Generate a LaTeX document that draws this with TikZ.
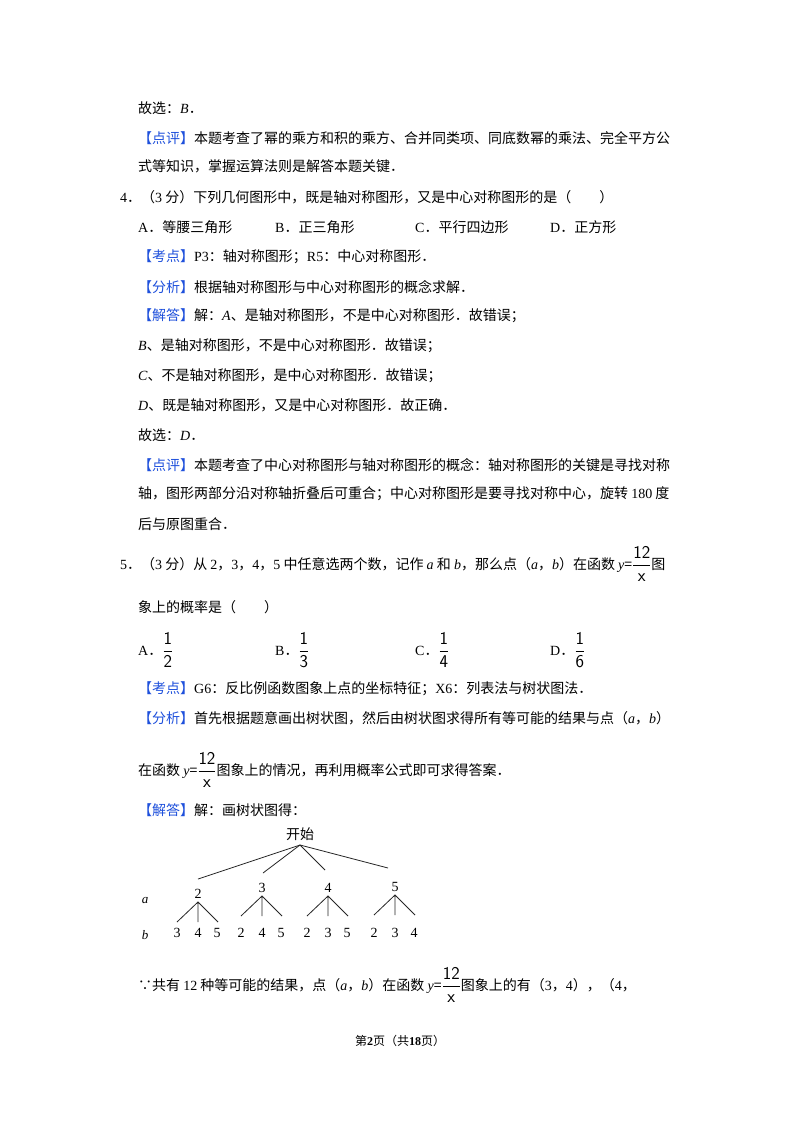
\documentclass[tikz,border=0pt]{standalone}
\usepackage{fontspec}
\setmainfont{Noto Sans CJK SC}
\newfontfamily\ser{Liberation Serif}
\newcommand{\I}[1]{{\ser\itshape #1}}
\newcommand{\R}[1]{{\ser #1}}
\newcommand{\tag}[1]{{\color{tagblue}【#1】}}
\newcommand{\fr}[2]{{\fontsize{18}{20}\selectfont$\displaystyle\frac{\mathsf{#1}}{\mathsf{#2}}$}}
\definecolor{tagblue}{RGB}{30,80,220}
\begin{document}
\begin{tikzpicture}[x=1pt,y=-1pt,
  ln/.style={anchor=west,inner sep=0pt,font=\fontsize{14}{16}\selectfont},
  tn/.style={inner sep=0pt,font=\ser\fontsize{14}{16}\selectfont},
  br/.style={line width=0.8pt,black!85}]
\useasboundingbox (0,0) rectangle (800,1132);
\fill[white] (0,0) rectangle (800,1132);
\node[ln] (l1) at (138,108) {故选：\I{B}．};
\node[ln] (l2) at (138,138) {\tag{点评}本题考查了幂的乘方和积的乘方、合并同类项、同底数幂的乘法、完全平方公};
\node[ln] (l3) at (138,166) {式等知识，掌握运算法则是解答本题关键．};
\node[ln] (l4) at (120,197) {\R{4}．（\R{3} 分）下列几何图形中，既是轴对称图形，又是中心对称图形的是（\quad\quad）};
\node[ln] (o1) at (138,227) {\R{A}．等腰三角形};
\node[ln] (o2) at (275,227) {\R{B}．正三角形};
\node[ln] (o3) at (415,227) {\R{C}．平行四边形};
\node[ln] (o4) at (550,227) {\R{D}．正方形};
\node[ln] (l5) at (138,257) {\tag{考点}\R{P3}：轴对称图形；\R{R5}：中心对称图形．};
\node[ln] (l6) at (138,287) {\tag{分析}根据轴对称图形与中心对称图形的概念求解．};
\node[ln] (l7) at (138,316) {\tag{解答}解：\I{A}、是轴对称图形，不是中心对称图形．故错误；};
\node[ln] (l8) at (138,346) {\I{B}、是轴对称图形，不是中心对称图形．故错误；};
\node[ln] (l9) at (138,376) {\I{C}、不是轴对称图形，是中心对称图形．故错误；};
\node[ln] (l10) at (138,405) {\I{D}、既是轴对称图形，又是中心对称图形．故正确．};
\node[ln] (l11) at (138,435) {故选：\I{D}．};
\node[ln] (l12) at (138,465) {\tag{点评}本题考查了中心对称图形与轴对称图形的概念：轴对称图形的关键是寻找对称};
\node[ln] (l13) at (138,494) {轴，图形两部分沿对称轴折叠后可重合；中心对称图形是要寻找对称中心，旋转 \R{180} 度};
\node[ln] (l14) at (138,524) {后与原图重合．};
\node[ln] (l15) at (120,564) {\R{5}．（\R{3} 分）从 \R{2}，\R{3}，\R{4}，\R{5} 中任意选两个数，记作 \I{a} 和 \I{b}，那么点（\I{a}，\I{b}）在函数 \I{y}=\fr{12}{x}图};
\node[ln] (l16) at (138,607) {象上的概率是（\quad\quad）};
\node[ln] (p1) at (138,650) {\R{A}．\fr{1}{2}};
\node[ln] (p2) at (275,650) {\R{B}．\fr{1}{3}};
\node[ln] (p3) at (415,650) {\R{C}．\fr{1}{4}};
\node[ln] (p4) at (550,650) {\R{D}．\fr{1}{6}};
\node[ln] (l17) at (138,689) {\tag{考点}\R{G6}：反比例函数图象上点的坐标特征；\R{X6}：列表法与树状图法．};
\node[ln] (l18) at (138,718) {\tag{分析}首先根据题意画出树状图，然后由树状图求得所有等可能的结果与点（\I{a}，\I{b}）};
\node[ln] (l19) at (138,770) {在函数 \I{y}=\fr{12}{x}图象上的情况，再利用概率公式即可求得答案．};
\node[ln] (l20) at (138,810) {\tag{解答}解：画树状图得：};
% tree
\node[inner sep=0pt,font=\fontsize{14}{16}\selectfont] (root) at (300,834) {开始};
\coordinate (r) at (300,845);
\coordinate (e2) at (198,879);\coordinate (e3) at (263,873);
\coordinate (e4) at (325,870);\coordinate (e5) at (388,868);
\foreach \e in {e2,e3,e4,e5} \draw[br] (r) -- (\e);
\node[tn,font=\ser\itshape\fontsize{13}{15}\selectfont] (la) at (145,900) {a};
\node[tn,font=\ser\itshape\fontsize{13}{15}\selectfont] (lb) at (145,935) {b};
\foreach \n/\x/\y/\p/\q/\s in {2/198/894/3/4/5, 3/262/888/2/4/5, 4/328/888/2/3/5, 5/395/887/2/3/4}{
  \node[tn] (a\n) at (\x,\y) {\n};
  \coordinate (ap\n) at (\x,\y+8);
  \coordinate (bl\n) at (\x-21,\y+28);
  \coordinate (bm\n) at (\x,\y+28);
  \coordinate (bt\n) at (\x+20,\y+28);
  \draw[br] (bl\n) -- (ap\n) -- (bt\n) (ap\n) -- (bm\n);
  \node[tn] (b\n a) at (\x-21,933) {\p};
  \node[tn] (b\n b) at (\x,933) {\q};
  \node[tn] (b\n c) at (\x+19,933) {\s};
}
\node[ln] (l21) at (138,985) {∵共有 \R{12} 种等可能的结果，点（\I{a}，\I{b}）在函数 \I{y}=\fr{12}{x}图象上的有（\R{3}，\R{4}），（\R{4}，};
\node[inner sep=0pt,font=\fontsize{12}{14}\selectfont] (ft) at (400,1041) {第\textbf{\R{2}}页（共\textbf{\R{18}}页）};
\end{tikzpicture}
\end{document}
